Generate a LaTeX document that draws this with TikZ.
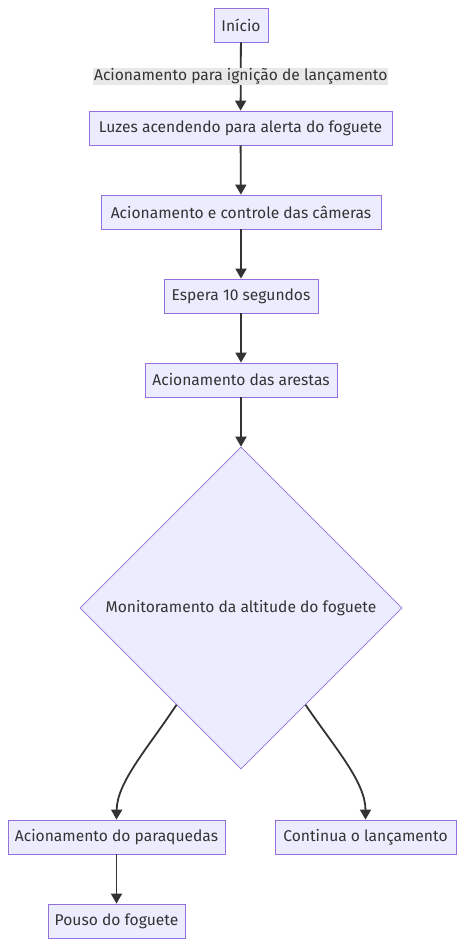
\documentclass[tikz,border=0pt]{standalone}
\usepackage{fontspec}
\setmainfont{Fira Sans}
\usepackage{tikz}
\usetikzlibrary{shapes.geometric,arrows.meta,calc}
\definecolor{FlowFill}{HTML}{ECECFF}
\definecolor{FlowStroke}{HTML}{9370DB}
\definecolor{FlowText}{HTML}{333333}
\definecolor{FlowLine}{HTML}{333333}
\definecolor{FlowLabel}{HTML}{E8E8E8}

\begin{document}
\begin{tikzpicture}[x=1pt,y=-1pt,
    font=\fontsize{15.6}{18}\selectfont,
    etapa/.style={draw=FlowStroke,fill=FlowFill,text=FlowText,line width=0.8pt,
      minimum height=34pt,inner sep=0pt},
    decisao/.style={draw=FlowStroke,fill=FlowFill,text=FlowText,line width=0.6pt,
      diamond,aspect=1,minimum size=322pt,inner sep=0pt},
    fluxo/.style={draw=FlowLine,line width=1.8pt,-{Triangle[length=10pt,width=11pt]}},
    rotulo/.style={fill=FlowLabel,text=FlowText,inner sep=1pt}]
      \useasboundingbox (0,0) rectangle (464,946);
      \node[etapa,minimum width=54pt] (inicio) at (241,25) {Início};
      \node[etapa,minimum width=303pt] (luzes) at (240.5,128) {Luzes acendendo para alerta do foguete};
      \node[etapa,minimum width=280pt] (cameras) at (241,212) {Acionamento e controle das câmeras};
      \node[etapa,minimum width=154pt] (espera) at (241,296) {Espera 10 segundos};
      \node[etapa,minimum width=192pt] (arestas) at (241,380) {Acionamento das arestas};
      \node[decisao] (altitude) at (241,608) {Monitoramento da altitude do foguete};
      \node[etapa,minimum width=217pt] (paraquedas) at (116.5,837) {Acionamento do paraquedas};
      \node[etapa,minimum width=181pt] (continua) at (365.5,837) {Continua o lançamento};
      \node[etapa,minimum width=137pt] (pouso) at (116.5,921) {Pouso do foguete};
      \coordinate (saidaA) at ($(altitude.west)!0.6!(altitude.south)$);
      \coordinate (saidaB) at ($(altitude.east)!0.6!(altitude.south)$);
      \draw[fluxo] (inicio) -- node[rotulo] {Acionamento para ignição de lançamento} (luzes);
      \draw[fluxo] (luzes) -- (cameras);
      \draw[fluxo] (cameras) -- (espera);
      \draw[fluxo] (espera) -- (arestas);
      \draw[fluxo] (arestas) -- (altitude);
      \draw[fluxo] (saidaA) .. controls (148,748) and (117,782) .. (paraquedas.north);
      \draw[fluxo] (saidaB) .. controls (335,748) and (365.5,782) .. (continua.north);
      \draw[fluxo] (paraquedas) -- (pouso);
    \end{tikzpicture}
\end{document}
